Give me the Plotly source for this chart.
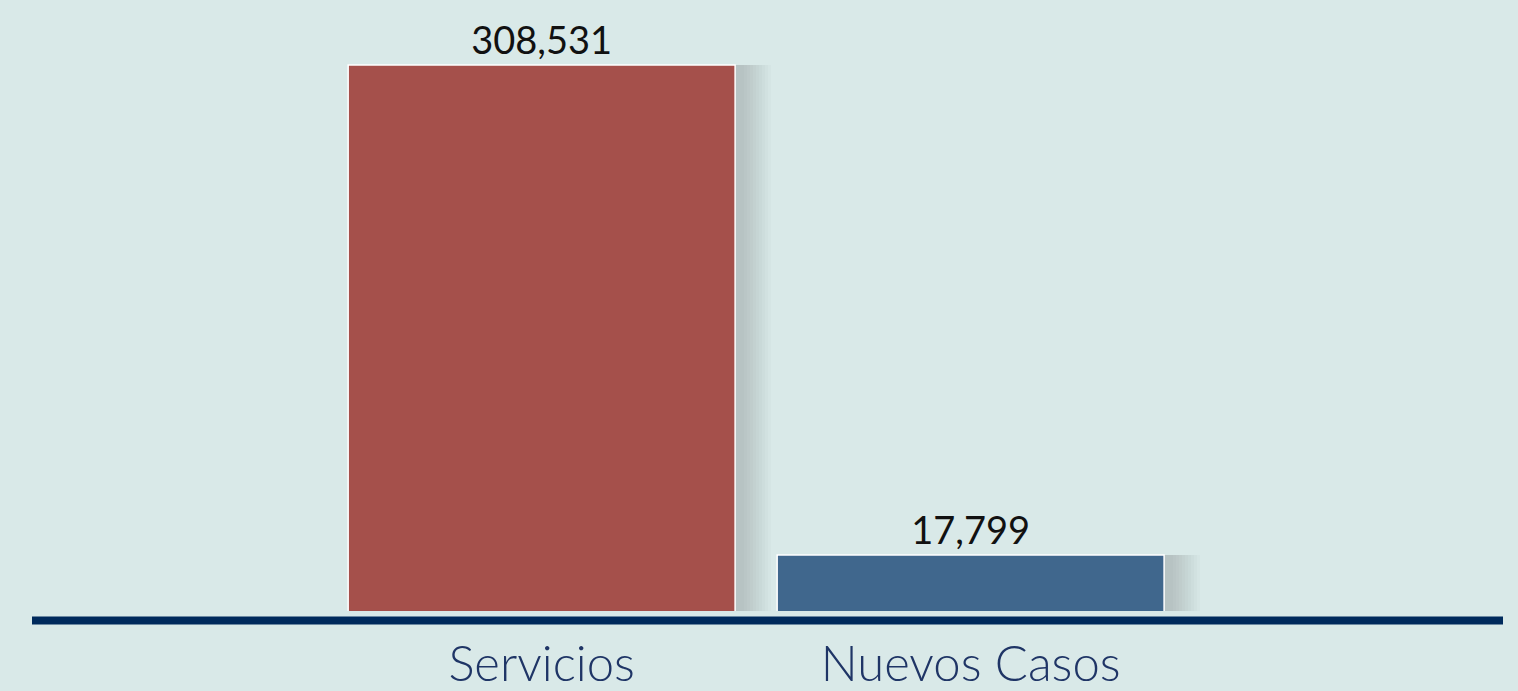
import plotly.graph_objects as go

categorias = ["Servicios", "Nuevos Casos"]
valores = [308531, 17799]
etiquetas = ["308,531", "17,799"]
colores = ["#a5504b", "#40678d"]

fig = go.Figure()

# sombra suave a la derecha de cada barra
for i in range(10):
    fig.add_trace(go.Bar(
        x=categorias, y=valores,
        width=0.902 + 0.007 * (i + 1), offset=-0.451 + 0.014,
        marker=dict(color="rgba(40,70,70,0.02)", line=dict(width=0)),
        hoverinfo="skip", showlegend=False,
    ))

fig.add_trace(go.Bar(
    x=categorias, y=valores,
    width=0.902, offset=-0.451,
    marker=dict(color=colores, line=dict(color="white", width=1.5)),
    text=etiquetas, textposition="outside", cliponaxis=False,
    textfont=dict(family="Lato", size=38, color="#111111"),
    showlegend=False,
))

fig.add_shape(type="line", xref="paper", yref="paper",
              x0=0, x1=1, y0=-0.016, y1=-0.016,
              line=dict(color="#002a5c", width=8))

fig.update_layout(
    width=1518, height=691,
    paper_bgcolor="#d9e9e8", plot_bgcolor="#d9e9e8",
    margin=dict(l=32, r=15, t=10, b=80),
    barmode="overlay",
    xaxis=dict(range=[-1.188, 2.241], showgrid=False, zeroline=False, showline=False,
               ticks="", ticklabelstandoff=20, automargin=False,
               tickfont=dict(family="Lato Light, Lato", size=49, color="#1f3566", weight=300)),
    yaxis=dict(type="log", range=[4.1088, 5.6284], visible=False, automargin=False),
)

fig.write_html("out.html", config={"displayModeBar": False},
               post_script="document.body.style.margin='0';document.body.style.overflow='hidden';")
